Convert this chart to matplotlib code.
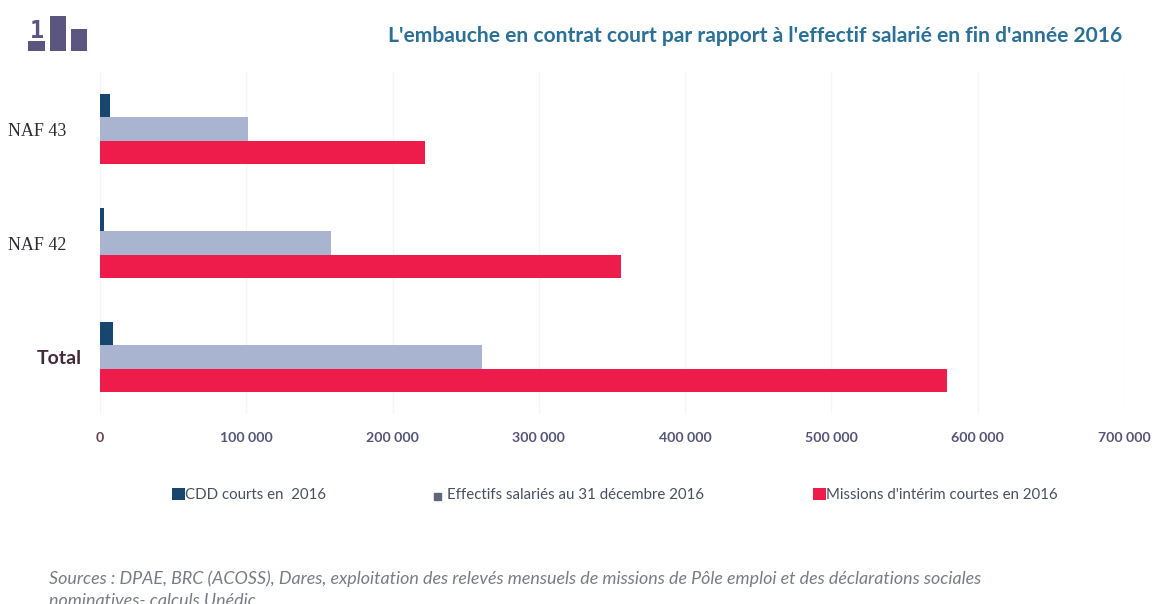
import numpy as np
import matplotlib
matplotlib.use("Agg")
import matplotlib.pyplot as plt
from matplotlib.patches import Rectangle

plt.rcParams['font.family'] = ['Lato', 'DejaVu Sans']

# data
categories = ["Total", "NAF 42", "NAF 43"]
cdd_courts = [9000, 2500, 7000]
effectifs = [261000, 158000, 101000]
missions = [579000, 356000, 222000]
x_ticks = [0, 100000, 200000, 300000, 400000, 500000, 600000, 700000]
x_labels = ["0", "100 000", "200 000", "300 000", "400 000", "500 000", "600 000", "700 000"]

W, H = 1168, 604
fig = plt.figure(figsize=(W / 100, H / 100), dpi=100)

# axes box in pixels, origin top left
left, right, top, bottom = 100, 1124, 72, 414
ax = fig.add_axes([left / W, 1 - bottom / H, (right - left) / W, (bottom - top) / H])

y = np.arange(len(categories))
h = 0.203
b1 = ax.barh(y + h, cdd_courts, height=h, color="#17466f", label="CDD courts en  2016")
b2 = ax.barh(y, effectifs, height=h, color="#a9b5d0", label="Effectifs salariés au 31 décembre 2016")
b3 = ax.barh(y - h, missions, height=h, color="#ee1c4a", label="Missions d'intérim courtes en 2016")

ax.set_xlim(0, 700000)
ax.set_ylim(-0.5, 2.5)
ax.set_axisbelow(True)
ax.grid(axis="x", color="#f6f6f6", linewidth=1)
for s in ax.spines.values():
    s.set_visible(False)
ax.tick_params(length=0)

ax.set_xticks(x_ticks)
ax.set_xticklabels(x_labels, fontsize=10.2, color="#55557a", fontweight="bold")
ax.tick_params(axis="x", pad=13)
ax.get_xticklabels()[0].set_color("#6b4048")

ax.set_yticks(y)
ax.set_yticklabels(categories, fontsize=13, color="#2e2a35", family="Liberation Serif")
lab = ax.get_yticklabels()[0]
lab.set_family("Lato")
lab.set_fontsize(14)
lab.set_fontweight("bold")
lab.set_color("#45283a")
# Total sits closer to the bars than the NAF labels
for tick, pad in zip(ax.yaxis.get_major_ticks(), (13, 24.5, 24.5)):
    tick.set_pad(pad)

# legend entries sit at uneven spots, so one legend per entry
for bars, px in ((b1, 172), (b2, 434), (b3, 813)):
    leg = fig.legend(handles=[bars], loc="center left", bbox_to_anchor=(px / W, 1 - 495 / H),
                     frameon=False, fontsize=10.8, handlelength=0.85, handleheight=0.8,
                     handletextpad=0.0, labelcolor="#4a4f63", borderpad=0, borderaxespad=0)
    if bars is b2:
        leg.legend_handles[0].set_color("#5f667c")
        leg.legend_handles[0].set_width(5)
        leg.legend_handles[0].set_height(5)

fig.text(1122 / W, 1 - 36 / H, "L'embauche en contrat court par rapport à l'effectif salarié en fin d'année 2016",
         ha="right", va="center", fontsize=15.1, fontweight="bold", color="#2b7096")

fig.text(49 / W, 1 - 579 / H,
         "Sources : DPAE, BRC (ACOSS), Dares, exploitation des relevés mensuels de missions de Pôle emploi et des déclarations sociales",
         ha="left", va="center", fontsize=12.9, style="italic", color="#7a7c84")
fig.text(49 / W, 1 - 601 / H, "nominatives- calculs Unédic",
         ha="left", va="center", fontsize=12.9, style="italic", color="#7a7c84")

# small logo top left
icon = "#5a5680"
for x0, y0, x1, y1 in ((28, 41, 45, 51), (50, 16, 66, 51), (71, 29, 87, 51)):
    fig.add_artist(Rectangle((x0 / W, 1 - y1 / H), (x1 - x0) / W, (y1 - y0) / H,
                             transform=fig.transFigure, color=icon, lw=0))
fig.text(37 / W, 1 - 31 / H, "1", ha="center", va="center", fontsize=17,
         fontweight="bold", color=icon, family="DejaVu Sans Mono")

fig.savefig("out.png", dpi=100)
